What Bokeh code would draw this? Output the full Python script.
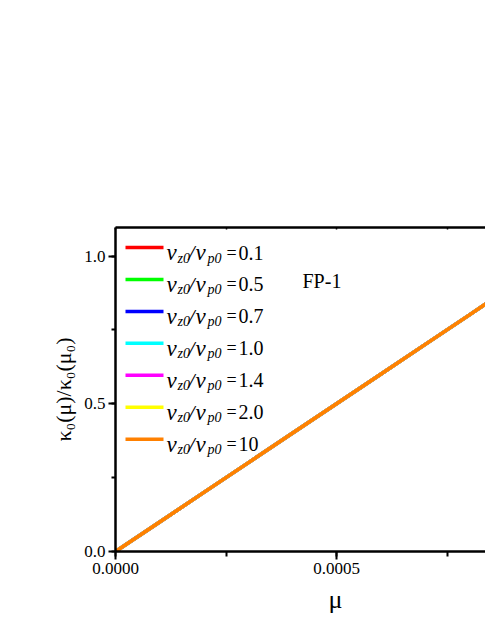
from bokeh.plotting import figure
from bokeh.models import (Range1d, LinearAxis, SingleIntervalTicker, PrintfTickFormatter, Label, Title)
from bokeh.embed import file_html
from bokeh.resources import INLINE

# ---- data ----
mu = [0.0, 0.0001, 0.0002, 0.0003, 0.0004, 0.0005, 0.0006, 0.0007, 0.0008, 0.0009, 0.0010]
ratio_01 = [0.0, 0.1, 0.2, 0.3, 0.4, 0.5, 0.6, 0.7, 0.8, 0.9, 1.0]
ratio_05 = [0.0, 0.1, 0.2, 0.3, 0.4, 0.5, 0.6, 0.7, 0.8, 0.9, 1.0]
ratio_07 = [0.0, 0.1, 0.2, 0.3, 0.4, 0.5, 0.6, 0.7, 0.8, 0.9, 1.0]
ratio_10 = [0.0, 0.1, 0.2, 0.3, 0.4, 0.5, 0.6, 0.7, 0.8, 0.9, 1.0]
ratio_14 = [0.0, 0.1, 0.2, 0.3, 0.4, 0.5, 0.6, 0.7, 0.8, 0.9, 1.0]
ratio_20 = [0.0, 0.1, 0.2, 0.3, 0.4, 0.5, 0.6, 0.7, 0.8, 0.9, 1.0]
ratio_100 = [0.0, 0.1, 0.2, 0.3, 0.4, 0.5, 0.6, 0.7, 0.8, 0.9, 1.0]
series_labels = ["0.1", "0.5", "0.7", "1.0", "1.4", "2.0", "10"]
series_values = [ratio_01, ratio_05, ratio_07, ratio_10, ratio_14, ratio_20, ratio_100]
colors = ["#FF0000", "#00FF00", "#0000FF", "#00FFFF", "#FF00FF", "#FFFF00", "#FF8000"]

x_tick_interval = 0.0005
y_tick_interval = 0.5

# ---- layout ----
FONT = "Liberation Serif"
W, H = 485, 627
LEFT, TOP, BOTTOM, RIGHT = 115, 227, 76, 0
frame_w = W - LEFT - RIGHT
frame_h = H - TOP - BOTTOM
PX_PER_X = 442 / 0.001      # pixels per unit of mu
PX_PER_Y = 295.5            # pixels per unit of kappa ratio
FX0, FY0 = 115, 551         # page position of frame origin


def dx(px):
    return (px - FX0) / PX_PER_X


def dy(py):
    return (FY0 - py) / PX_PER_Y


p = figure(width=W, height=H, output_backend="svg", toolbar_location=None,
           x_range=Range1d(0, frame_w / PX_PER_X), y_range=Range1d(0, frame_h / PX_PER_Y),
           min_border_left=LEFT, min_border_top=TOP, min_border_bottom=BOTTOM,
           min_border_right=RIGHT, x_axis_location=None, y_axis_location=None)
p.outline_line_color = None
p.xgrid.visible = False
p.ygrid.visible = False
p.background_fill_color = "white"
p.border_fill_color = "white"

for vals, c in zip(series_values, colors):
    p.line(mu, vals, line_color=c, line_width=3.5)

# axes
xb = LinearAxis(ticker=SingleIntervalTicker(interval=x_tick_interval, num_minor_ticks=2),
                formatter=PrintfTickFormatter(format="%.4f"))
xb.axis_line_width = 2.5
xb.major_tick_line_width = 2
xb.minor_tick_line_width = 2
xb.major_tick_out = 8
xb.major_tick_in = 0
xb.minor_tick_out = 5
xb.minor_tick_in = 0
xb.major_label_standoff = 3
xb.major_label_text_font = FONT
xb.major_label_text_font_size = "17px"
xb.major_label_text_color = "black"
p.add_layout(xb, "below")

xt = LinearAxis(ticker=SingleIntervalTicker(interval=x_tick_interval / 2, num_minor_ticks=0))
xt.axis_line_width = 2.5
xt.major_tick_line_width = 1.5
xt.major_tick_in = 2
xt.major_tick_out = 0
xt.minor_tick_line_color = None
xt.major_label_text_font_size = "0px"
xt.major_label_text_color = None
p.add_layout(xt, "above")

yl = LinearAxis(ticker=SingleIntervalTicker(interval=y_tick_interval, num_minor_ticks=2),
                formatter=PrintfTickFormatter(format="%.1f"))
yl.axis_line_width = 2.5
yl.major_tick_line_width = 2
yl.minor_tick_line_width = 2
yl.major_tick_out = 7
yl.major_tick_in = 0
yl.minor_tick_out = 4
yl.minor_tick_in = 0
yl.major_label_standoff = 3
yl.major_label_text_font = FONT
yl.major_label_text_font_size = "17px"
yl.major_label_text_color = "black"
yl.axis_label = "κ₀(μ)/κ₀(μ₀)"
yl.axis_label_text_font = FONT
yl.axis_label_text_font_size = "22px"
yl.axis_label_text_font_style = "normal"
yl.axis_label_text_color = "black"
yl.axis_label_standoff = 5
p.add_layout(yl, "left")

# x axis title, centred under the full (cropped) original axis
xtitle = Title(text="μ", text_font=FONT, text_font_size="26px", text_font_style="normal",
               text_color="black", align="left", offset=213, standoff=13)
p.add_layout(xtitle, "below")

# FP-1 annotation
p.add_layout(Label(x=dx(302), y=dy(280), text="FP-1", text_font=FONT, text_font_size="20px",
                   text_baseline="alphabetic", text_color="black"))

# manual legend
for i, (lab, c) in enumerate(zip(series_labels, colors)):
    base = 252 + 31.95 * i
    ly = base - 5
    p.segment(x0=[dx(125)], y0=[dy(ly)], x1=[dx(163)], y1=[dy(ly)], line_color=c, line_width=3.5)
    pieces = [
        ("v", 166, 0, "23px", "italic"),
        ("z0", 177, 5.5, "14px", "italic"),
        ("/", 188, 0, "22px", "italic"),
        ("v", 195, 0, "23px", "italic"),
        ("p0", 207, 5.5, "14px", "italic"),
        ("=", 226, 0, "18px", "normal"),
        (lab, 238, 0, "20px", "normal"),
    ]
    for txt, px, sub, fs, st in pieces:
        p.add_layout(Label(x=dx(px), y=dy(base + sub), text=txt, text_font=FONT,
                           text_font_size=fs, text_font_style=st, text_color="black",
                           text_baseline="alphabetic"))

open("out.html", "w").write(file_html(p, INLINE))
